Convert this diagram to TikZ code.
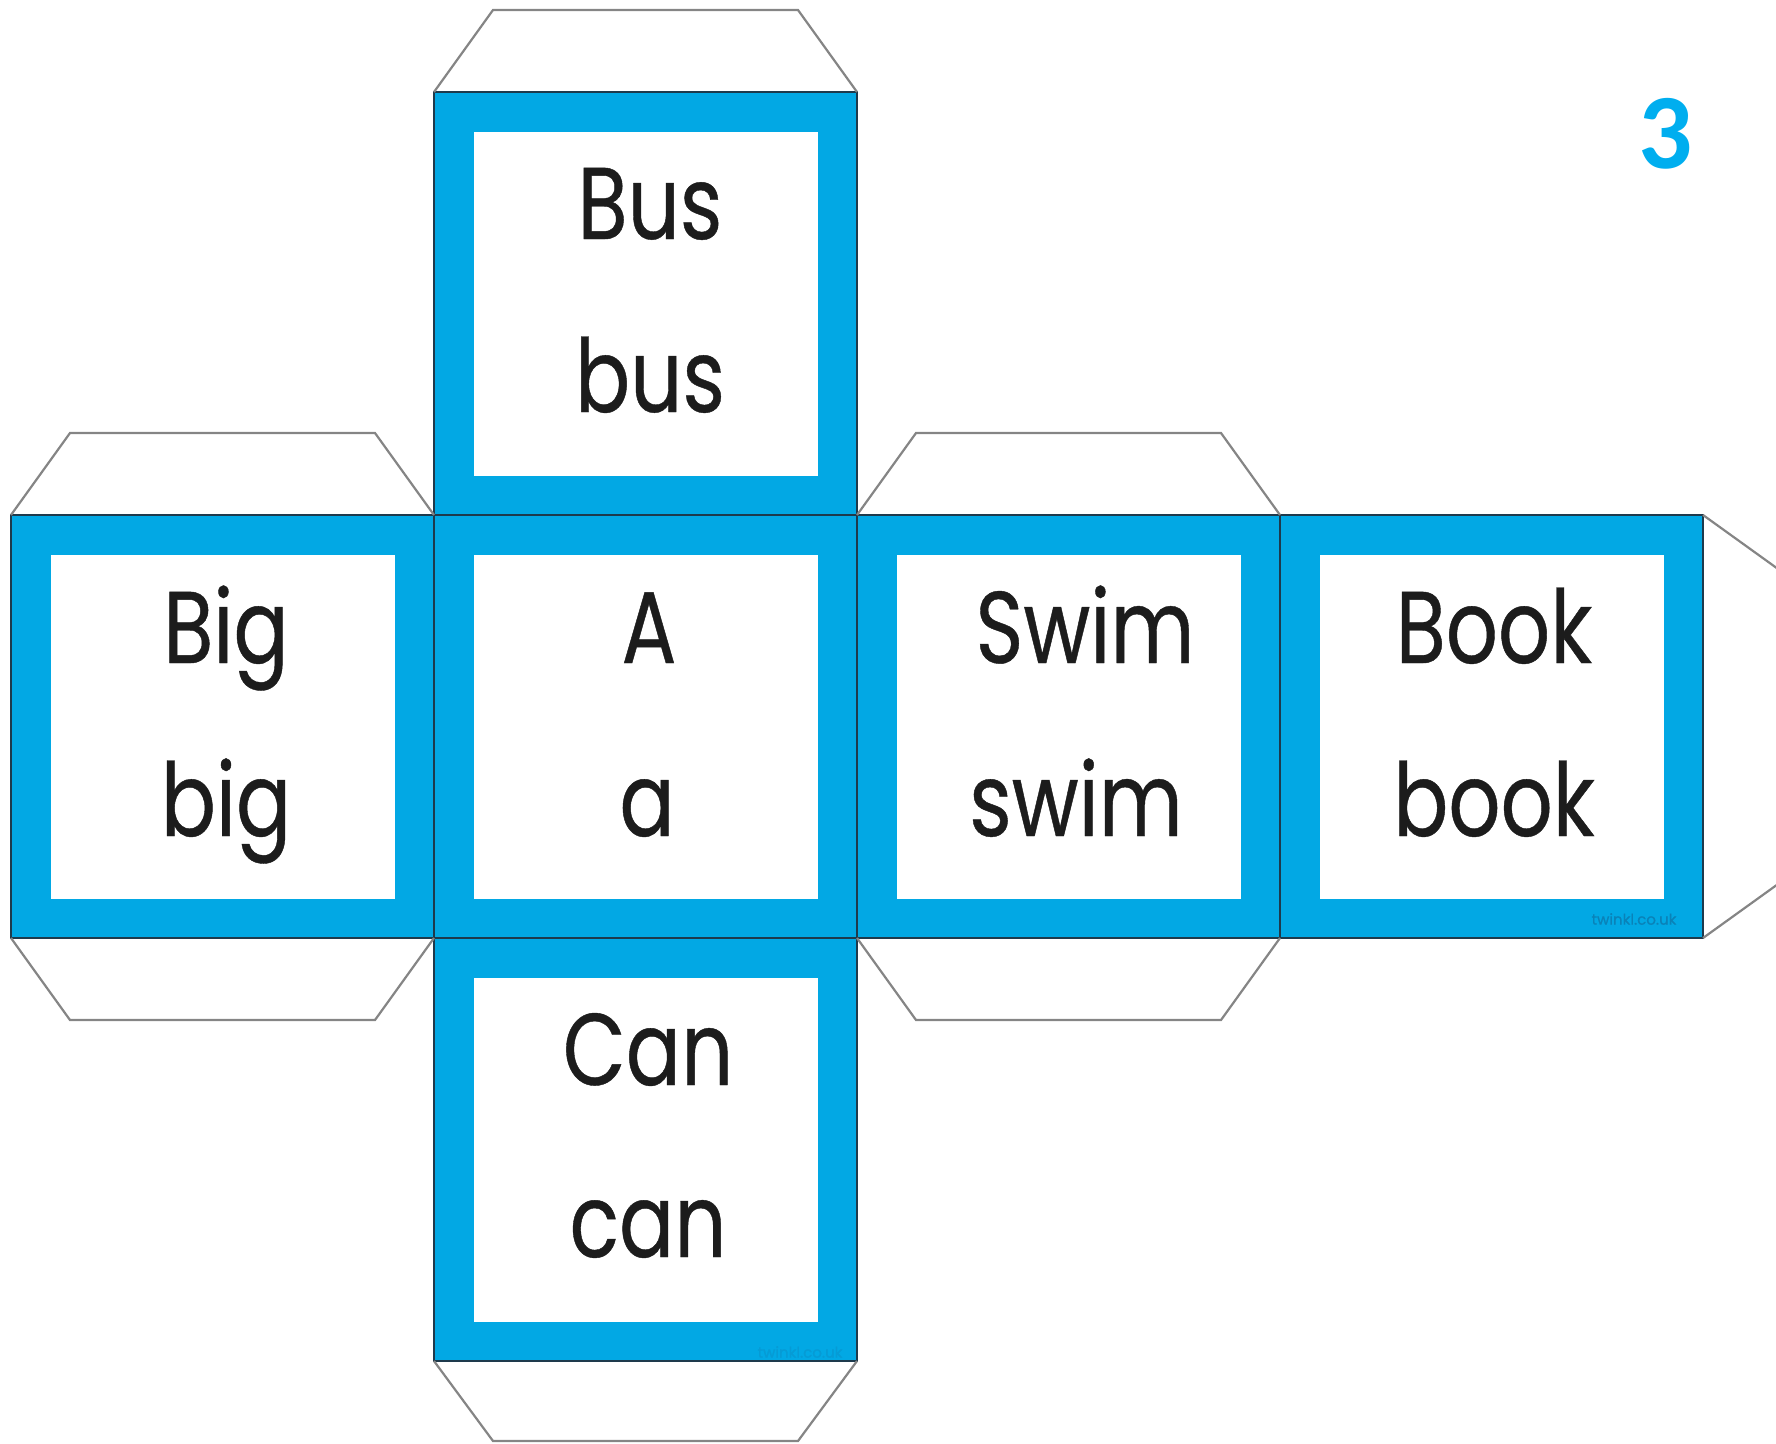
\documentclass[tikz,border=0pt]{standalone}
\usepackage{fontspec}
\newfontfamily\wordfont{Poppins}[FakeStretch=0.80, FakeBold=0.4]
\newfontfamily\markfont{Poppins}[FakeBold=0.6]
\newfontfamily\numfont{Carlito}
\definecolor{cubeblue}{HTML}{02A8E4}
\definecolor{edgedark}{HTML}{1E3A4C}
\definecolor{tabgray}{HTML}{858585}
\definecolor{numblue}{HTML}{00AEEF}
\definecolor{inkblack}{HTML}{1C1C1C}
\definecolor{marktext}{HTML}{0A82B8}
\definecolor{faintmark}{HTML}{069BD5}
\begin{document}
\begin{tikzpicture}[x=1pt,y=-1pt,
  face/.style={draw=edgedark, line width=1.4pt, fill=cubeblue, minimum width=423pt, minimum height=423pt, inner sep=0pt, outer sep=0pt},
  window/.style={fill=white, minimum width=344pt, minimum height=344pt, inner sep=0pt, outer sep=0pt},
  tab/.style={draw=tabgray, line width=2.2pt, line join=miter},
  word/.style={anchor=base, text=inkblack, inner sep=0pt, font=\wordfont\fontsize{102}{120}\selectfont},
  sitemark/.style={inner sep=0pt, font=\markfont\fontsize{15}{15}\selectfont},
]
\useasboundingbox (0,0) rectangle (1776,1443);
\clip (0,0) rectangle (1776,1443);
% faces
\node[face] (fBus) at (645.5,303.5) {};
\node[face] (fBig) at (222.5,726.5) {};
\node[face] (fA) at (645.5,726.5) {};
\node[face] (fSwim) at (1068.5,726.5) {};
\node[face] (fBook) at (1491.5,726.5) {};
\node[face] (fCan) at (645.5,1149.5) {};
\foreach \f in {Bus,Big,A,Swim,Book,Can} {\node[window] (w\f) at (f\f) {};}
% glue tabs
\draw[tab] (fBus.north west) -- ++(59,-82) -- ++(305,0) -- (fBus.north east);
\draw[tab] (fBig.north west) -- ++(59,-82) -- ++(305,0) -- (fBig.north east);
\draw[tab] (fBig.south west) -- ++(59,82) -- ++(305,0) -- (fBig.south east);
\draw[tab] (fSwim.north west) -- ++(59,-82) -- ++(305,0) -- (fSwim.north east);
\draw[tab] (fSwim.south west) -- ++(59,82) -- ++(305,0) -- (fSwim.south east);
\draw[tab] (fBook.north east) -- ++(82,59) -- ++(0,305) -- (fBook.south east);
\draw[tab] (fCan.south west) -- ++(59,80) -- ++(305,0) -- (fCan.south east);
% words
\node[word] (tBus) at (650,239) {Bus};
\node[word] (tbus) at (650,412) {bus};
\node[word] (tBig) at (226,663) {Big};
\node[word] (tbig) at (226,836) {big};
\node[word] (tA) at (649,663) {A};
\node[word] (ta) at (647,836) {a};
\node[word] (tSwim) at (1085,663) {Swim};
\node[word] (tswim) at (1076,836) {swim};
\node[word] (tBook) at (1494,663) {Book};
\node[word] (tbook) at (1494,836) {book};
\node[word] (tCan) at (648,1085) {Can};
\node[word] (tcan) at (648,1257) {can};
% page number and marks
\node[anchor=base, inner sep=0pt, text=numblue, font=\numfont\bfseries\fontsize{107}{107}\selectfont] (num) at (1666,168) {3};
\node[sitemark, text=marktext] (markA) at (1634,919) {twinkl.co.uk};
\node[sitemark, text=faintmark] (markB) at (800,1352) {twinkl.co.uk};
\end{tikzpicture}
\end{document}
